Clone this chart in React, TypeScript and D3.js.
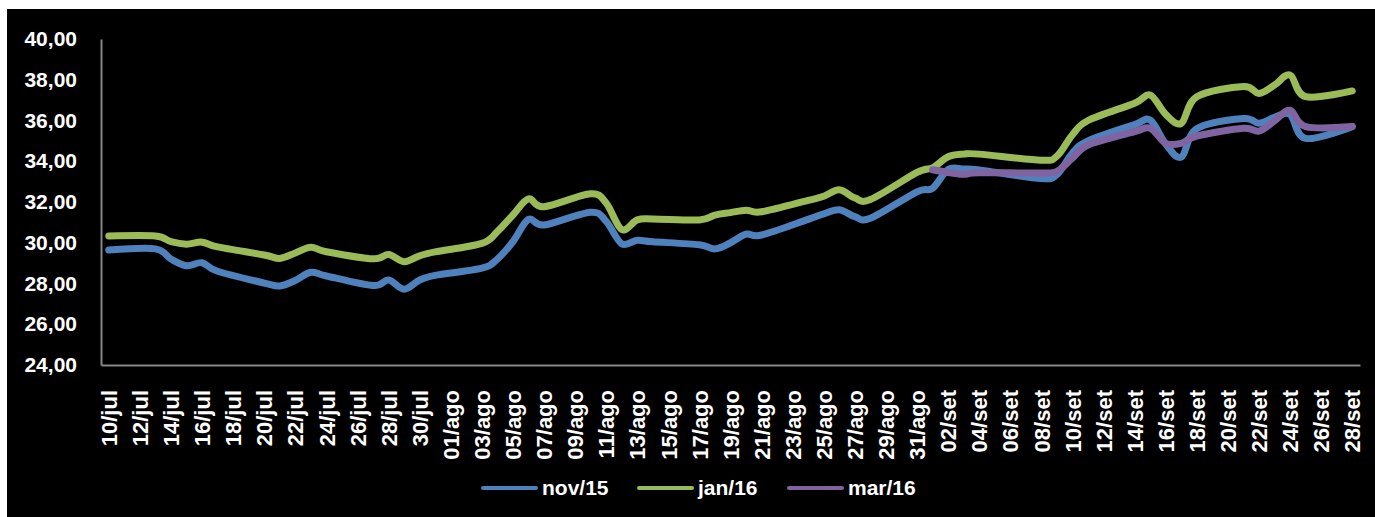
import React, { useRef, useEffect } from "react";
import * as d3 from "d3";

// business days (Brazilian market, 07/set holiday)
const dates = [
  "2015-07-10", "2015-07-13", "2015-07-14", "2015-07-15", "2015-07-16", "2015-07-17",
  "2015-07-20", "2015-07-21", "2015-07-22", "2015-07-23", "2015-07-24",
  "2015-07-27", "2015-07-28", "2015-07-29", "2015-07-30", "2015-07-31",
  "2015-08-03", "2015-08-04", "2015-08-05", "2015-08-06", "2015-08-07",
  "2015-08-10", "2015-08-11", "2015-08-12", "2015-08-13", "2015-08-14",
  "2015-08-17", "2015-08-18", "2015-08-19", "2015-08-20", "2015-08-21",
  "2015-08-24", "2015-08-25", "2015-08-26", "2015-08-27", "2015-08-28",
  "2015-08-31", "2015-09-01", "2015-09-02", "2015-09-03", "2015-09-04",
  "2015-09-08", "2015-09-09", "2015-09-10", "2015-09-11",
  "2015-09-14", "2015-09-15", "2015-09-16", "2015-09-17", "2015-09-18",
  "2015-09-21", "2015-09-22", "2015-09-23", "2015-09-24", "2015-09-25",
  "2015-09-28",
];

const nov15 = [
  29.64, 29.7, 29.2, 28.87, 29.02, 28.6,
  28.02, 27.88, 28.15, 28.55, 28.37,
  27.9, 28.17, 27.72, 28.17, 28.4,
  28.75, 29.2, 30.05, 31.15, 30.87,
  31.5, 31.05, 29.95, 30.12, 30.05,
  29.9, 29.7, 30.0, 30.42, 30.38,
  31.15, 31.42, 31.62, 31.28, 31.2,
  32.5, 32.67, 33.6, 33.62, 33.57,
  33.15, 33.35, 34.4, 35.0,
  35.8, 36.02, 34.85, 34.2, 35.6,
  36.1, 35.87, 36.15, 36.3, 35.12,
  35.7,
];

const jan16 = [
  30.33, 30.33, 30.05, 29.93, 30.03, 29.8,
  29.4, 29.23, 29.5, 29.78, 29.56,
  29.21, 29.42, 29.07, 29.36, 29.55,
  29.97, 30.55, 31.36, 32.15, 31.77,
  32.4, 31.95, 30.65, 31.12, 31.17,
  31.12, 31.36, 31.48, 31.6, 31.52,
  32.08, 32.28, 32.6, 32.2, 32.12,
  33.45, 33.68, 34.22, 34.35, 34.35,
  34.05, 34.25, 35.3, 36.0,
  36.85, 37.25, 36.3, 35.86, 37.17,
  37.67, 37.33, 37.74, 38.23, 37.17,
  37.45,
];

const mar16 = [
  null, null, null, null, null, null,
  null, null, null, null, null,
  null, null, null, null, null,
  null, null, null, null, null,
  null, null, null, null, null,
  null, null, null, null, null,
  null, null, null, null, null,
  null, 33.58, 33.45, 33.36, 33.44,
  33.42, 33.5, 34.15, 34.8,
  35.45, 35.62, 34.88, 34.88, 35.24,
  35.62, 35.48, 35.98, 36.5, 35.7,
  35.7,
];

const tickLabels = [
  "10/jul", "12/jul", "14/jul", "16/jul", "18/jul", "20/jul", "22/jul", "24/jul", "26/jul", "28/jul", "30/jul",
  "01/ago", "03/ago", "05/ago", "07/ago", "09/ago", "11/ago", "13/ago", "15/ago", "17/ago", "19/ago",
  "21/ago", "23/ago", "25/ago", "27/ago", "29/ago", "31/ago",
  "02/set", "04/set", "06/set", "08/set", "10/set", "12/set", "14/set", "16/set", "18/set", "20/set",
  "22/set", "24/set", "26/set", "28/set",
];

const yTicks = [24, 26, 28, 30, 32, 34, 36, 38, 40];

const seriesNames = ["nov/15", "jan/16", "mar/16"];
const seriesColors = ["#4F81BD", "#9BBB59", "#8064A2"];

const monthIdx: Record<string, number> = { jul: 6, ago: 7, set: 8 };
const parseDate = d3.utcParse("%Y-%m-%d");
const labelDate = (s: string) => {
  const [d, m] = s.split("/");
  return new Date(Date.UTC(2015, monthIdx[m], +d));
};

function App() {
  const svgRef = useRef(null);

  useEffect(() => {
    const width = 1375, height = 517;
    const font = "'Liberation Sans', Arial, sans-serif";
    const svg = d3.select(svgRef.current);
    svg.selectAll("*").remove();

    svg.append("rect").attr("width", width).attr("height", height).attr("fill", "#fff");
    svg.append("rect").attr("x", 7).attr("y", 9).attr("width", width - 7).attr("height", height - 9).attr("fill", "#000");

    const half = 12 * 3600 * 1000;
    const first = labelDate(tickLabels[0]);
    const last = labelDate(tickLabels[tickLabels.length - 1]);
    const x = d3.scaleUtc()
      .domain([new Date(+first - half), new Date(+last + half)])
      .range([101, 1360]);
    const y = d3.scaleLinear().domain([24, 40]).range([365, 39]);

    // y axis
    const yAxis = svg.append("g")
      .attr("transform", "translate(101,0)")
      .call(d3.axisLeft(y).tickValues(yTicks).tickSize(0).tickPadding(24)
        .tickFormat((d: any) => d3.format(".2f")(d).replace(".", ",")));
    yAxis.select(".domain").attr("stroke", "#868686").attr("stroke-width", 2);
    yAxis.selectAll("text")
      .attr("fill", "#fff").style("font-family", font).style("font-size", "21px").style("font-weight", "bold");

    // x axis
    const xAxis = svg.append("g")
      .attr("transform", "translate(0,365)")
      .call(d3.axisBottom(x).tickValues(tickLabels.map(labelDate)).tickSize(0)
        .tickFormat((d: any, i: number) => tickLabels[i]));
    xAxis.select(".domain").attr("stroke", "#868686").attr("stroke-width", 2);
    xAxis.selectAll("text")
      .attr("fill", "#fff")
      .attr("transform", "rotate(-90)")
      .attr("x", -25).attr("y", 0).attr("dy", "0.35em")
      .style("text-anchor", "end")
      .style("font-family", font).style("font-size", "22px").style("font-weight", "bold");

    // lines
    const seriesValues = [nov15, jan16, mar16];
    const line = d3.line<any>()
      .defined((d) => d.v != null)
      .x((d) => x(d.date))
      .y((d) => y(d.v))
      .curve(d3.curveCardinal.tension(0));

    seriesValues.forEach((vals, si) => {
      const pts = dates.map((s, i) => ({ date: parseDate(s), v: vals[i] })).filter((d) => d.v != null);
      svg.append("path")
        .datum(pts)
        .attr("d", line)
        .attr("fill", "none")
        .attr("stroke", seriesColors[si])
        .attr("stroke-width", 7)
        .attr("stroke-linecap", "round")
        .attr("stroke-linejoin", "round");
    });

    // legend
    const legendX = [483, 639, 789];
    const legend = svg.append("g").attr("transform", "translate(0,488)");
    seriesNames.forEach((name, i) => {
      legend.append("line")
        .attr("x1", legendX[i]).attr("x2", legendX[i] + 53)
        .attr("stroke", seriesColors[i]).attr("stroke-width", 4).attr("stroke-linecap", "round");
      legend.append("text")
        .attr("x", legendX[i] + 59).attr("y", 0).attr("dy", "0.35em")
        .attr("fill", "#fff")
        .style("font-family", font).style("font-size", "21px").style("font-weight", "bold")
        .text(name);
    });

    return () => {
      d3.select(svgRef.current).selectAll("*").remove();
    };
  }, []);

  return (
    <svg ref={svgRef} width={1375} height={517}
      style={{ position: "absolute", left: 0, top: 0, display: "block" }} />
  );
}

export default App;
